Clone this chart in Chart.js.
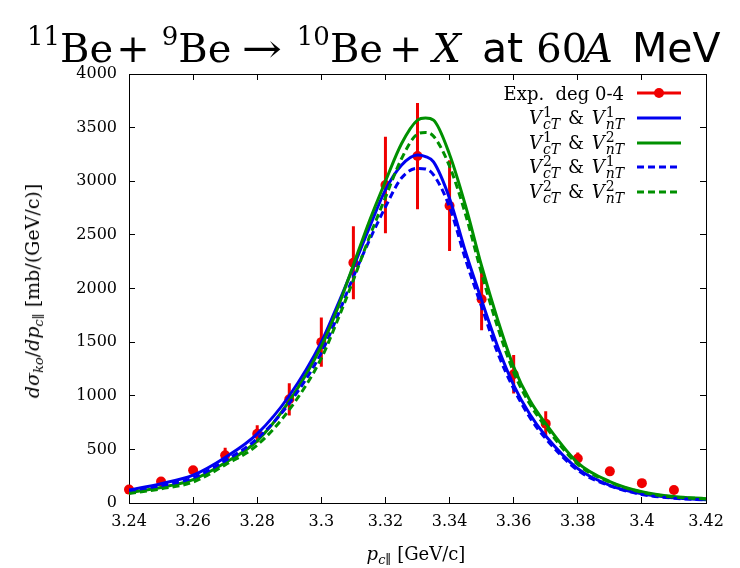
<!DOCTYPE html>
<html>
<head>
<meta charset="utf-8">
<script src="https://cdn.jsdelivr.net/npm/chart.js@4.4.0/dist/chart.umd.min.js"></script>
<style>
body { margin: 0; background: #fff; }
#wrap { position: relative; width: 740px; height: 568px; overflow: hidden; }
#grafico { position: absolute; left: 0; top: 0; }
.serif { font-family: "DejaVu Serif", serif; }
.sans { font-family: "DejaVu Sans", sans-serif; }
#titulo { position: absolute; left: 27px; top: 11px; font-size: 40px; line-height: 50px; white-space: nowrap; color: #000; }
#titulo span { display: inline-block; }
#titulo .sup { font-size: 26px; vertical-align: 17px; }
#titulo .sans { font-size: 41px; }
#ylabel { position: absolute; left: 32px; top: 291px; font-size: 19px; white-space: nowrap;
  transform: translate(-50%, -50%) rotate(-90deg); }
#xlabel { position: absolute; left: 416px; top: 553px; font-size: 18px; white-space: nowrap;
  transform: translate(-50%, -50%); }
sub { font-size: 13px; vertical-align: -4px; line-height: 0; }
.legenda { position: absolute; right: 116px; font-size: 18px; white-space: nowrap; transform: translateY(-50%); }
.legenda .e { margin: 0 2px; }
.amostra { position: absolute; left: 637px; width: 44px; height: 3px; transform: translateY(-50%); }
.ss { display: inline-flex; flex-direction: column; font-size: 14px; line-height: 12px; vertical-align: 7px; margin-left: 1px; }
</style>
</head>
<body>
<div id="wrap">
  <canvas id="grafico" width="740" height="568"></canvas>
  <div id="titulo" class="serif"><span class="sup">11</span><span>Be</span><span style="margin-left:3px">+</span><span class="sup" style="margin-left:12px">9</span><span>Be</span><span style="margin-left:14px;transform:scaleX(1.2)">→</span><span class="sup" style="margin-left:18px">10</span><span>Be</span><span style="margin-left:6px">+</span><span style="margin-left:10px"><i>X</i></span><span class="sans" style="margin-left:21px">at</span><span style="margin-left:13px">60</span><span style="margin-left:-3px"><i>A</i></span><span class="sans" style="margin-left:19px">MeV</span></div>
  <div id="ylabel" class="serif"><i>dσ</i><sub><i>ko</i></sub>/<i>dp</i><sub><i>c</i>∥</sub> [mb/(GeV/c)]</div>
  <div id="xlabel" class="serif"><i>p</i><sub><i>c</i>∥</sub> [GeV/c]</div>
  <div id="legendas"></div>
</div>
<script>
// Pontos experimentais (deg 0-4)
const expX = [3.24, 3.25, 3.26, 3.27, 3.28, 3.29, 3.30, 3.31, 3.32, 3.33, 3.34, 3.35, 3.36, 3.37, 3.38, 3.39, 3.40, 3.41];
const expY = [125, 200, 305, 445, 645, 967, 1500, 2240, 2965, 3235, 2772, 1900, 1200, 740, 415, 295, 185, 121];
const expErro = [20, 30, 40, 70, 80, 150, 230, 340, 450, 495, 423, 290, 180, 115, 55, 40, 30, 20];

// Curvas teóricas
const curvaX = [3.24, 3.25, 3.26, 3.27, 3.28, 3.29, 3.30, 3.305, 3.31, 3.315, 3.32, 3.325, 3.33, 3.3325, 3.335, 3.34, 3.345, 3.35, 3.355, 3.36, 3.365, 3.37, 3.38, 3.39, 3.40, 3.41, 3.42];
const v1c1n = [120, 180, 260, 425, 645, 1000, 1500, 1840, 2200, 2570, 2920, 3150, 3245, 3230, 3180, 2840, 2340, 1890, 1460, 1100, 830, 625, 320, 165, 85, 48, 30];
const v1c2n = [98, 145, 218, 375, 580, 950, 1460, 1810, 2220, 2630, 3000, 3350, 3570, 3590, 3570, 3250, 2770, 2210, 1710, 1270, 960, 740, 375, 200, 105, 60, 40];
const v2c1n = [105, 162, 235, 395, 600, 930, 1400, 1740, 2110, 2450, 2760, 3030, 3120, 3115, 3060, 2760, 2270, 1830, 1400, 1065, 800, 600, 305, 160, 80, 45, 28];
const v2c2n = [88, 132, 195, 355, 540, 870, 1350, 1700, 2080, 2480, 2850, 3210, 3440, 3455, 3420, 3140, 2690, 2140, 1640, 1220, 925, 710, 360, 195, 100, 56, 38];

const xTicks = [3.24, 3.26, 3.28, 3.30, 3.32, 3.34, 3.36, 3.38, 3.40, 3.42];
const yTicks = [0, 500, 1000, 1500, 2000, 2500, 3000, 3500, 4000];

function vv(a, b) {
  return '<i>V</i><span class="ss"><span>' + a + '</span><span><i>cT</i></span></span> <span class="e">&amp;</span> ' +
         '<i>V</i><span class="ss"><span>' + b + '</span><span><i>nT</i></span></span>';
}
const legendaTextos = ['Exp.&nbsp; deg 0-4', vv(1, 1), vv(1, 2), vv(2, 1), vv(2, 2)];
const vermelho = '#f00000';
const azul = '#0000f0';
const verde = '#009000';
const legendaCores = [vermelho, azul, verde, azul, verde];
const legendaTracejado = [false, false, false, true, true];

function pares(xs, ys) {
  return xs.map((x, i) => ({ x: x, y: ys[i] }));
}

// barras de erro: segmentos separados por null
const barras = [];
expX.forEach((x, i) => {
  barras.push({ x: x, y: expY[i] - expErro[i] });
  barras.push({ x: x, y: expY[i] + expErro[i] });
  barras.push({ x: x, y: null });
});

function curva(dados, cor, tracejado, ordem) {
  return {
    data: pares(curvaX, dados),
    borderColor: cor,
    borderWidth: 3,
    borderDash: tracejado ? [7, 4] : [],
    pointRadius: 0,
    fill: false,
    cubicInterpolationMode: 'monotone',
    order: ordem
  };
}

const gradeInterna = { display: true, drawOnChartArea: false, drawTicks: true, tickLength: -6, color: '#000', lineWidth: 1 };
const borda = { display: true, color: '#000', width: 1 };
const fonteTicks = { family: 'DejaVu Serif', size: 16 };

var ctx = document.getElementById('grafico').getContext('2d');
var grafico = new Chart(ctx, {
  type: 'line',
  data: {
    datasets: [
      { data: barras, borderColor: vermelho, borderWidth: 3, pointRadius: 0, spanGaps: false, order: 10 },
      { data: pares(expX, expY), showLine: false, pointRadius: 5, pointBackgroundColor: vermelho, pointBorderColor: vermelho, pointBorderWidth: 0, clip: false, order: 9 },
      curva(v1c1n, azul, false, 4),
      curva(v1c2n, verde, false, 3),
      curva(v2c1n, azul, true, 2),
      curva(v2c2n, verde, true, 1)
    ]
  },
  options: {
    responsive: false,
    animation: false,
    devicePixelRatio: 1,
    layout: { padding: { top: 74, right: 34, left: 0, bottom: 0 } },
    plugins: { legend: { display: false }, tooltip: { enabled: false } },
    scales: {
      x: {
        type: 'linear', position: 'bottom', min: 3.24, max: 3.42,
        afterBuildTicks: s => { s.ticks = xTicks.map(v => ({ value: v })); },
        afterFit: s => { s.height = 65; },
        ticks: { color: '#000', font: fonteTicks, padding: 15, maxRotation: 0, autoSkip: false,
          callback: v => String(parseFloat(v.toFixed(2))) },
        grid: gradeInterna, border: borda
      },
      x2: {
        type: 'linear', position: 'top', min: 3.24, max: 3.42,
        afterBuildTicks: s => { s.ticks = xTicks.map(v => ({ value: v })); },
        afterFit: s => { s.height = 0; },
        ticks: { display: false },
        grid: gradeInterna, border: borda
      },
      y: {
        type: 'linear', position: 'left', min: 0, max: 4000,
        afterBuildTicks: s => { s.ticks = yTicks.map(v => ({ value: v })); },
        afterFit: s => { s.width = 129; },
        ticks: { color: '#000', font: fonteTicks, padding: 18, callback: v => String(v) },
        grid: gradeInterna, border: borda
      },
      y2: {
        type: 'linear', position: 'right', min: 0, max: 4000,
        afterBuildTicks: s => { s.ticks = yTicks.map(v => ({ value: v })); },
        afterFit: s => { s.width = 0; },
        ticks: { display: false },
        grid: gradeInterna, border: borda
      }
    }
  }
});

// legenda no canto superior direito, estilo gnuplot
const linhasY = [92.7, 117.6, 142.5, 167.4, 192.3];
const caixa = document.getElementById('legendas');
legendaTextos.forEach((txt, i) => {
  const t = document.createElement('div');
  t.className = 'legenda serif';
  t.style.top = linhasY[i] + 'px';
  t.innerHTML = txt;
  caixa.appendChild(t);
  const a = document.createElement('div');
  a.className = 'amostra';
  a.style.top = linhasY[i] + 'px';
  a.style.background = legendaTracejado[i]
    ? 'repeating-linear-gradient(to right, ' + legendaCores[i] + ' 0 7px, transparent 7px 11px)'
    : legendaCores[i];
  caixa.appendChild(a);
  if (i === 0) {
    const p = document.createElement('div');
    p.style.cssText = 'position:absolute;left:654px;width:10px;height:10px;border-radius:50%;transform:translateY(-50%);background:' + vermelho;
    p.style.top = linhasY[i] + 'px';
    caixa.appendChild(p);
  }
});
</script>
</body>
</html>
